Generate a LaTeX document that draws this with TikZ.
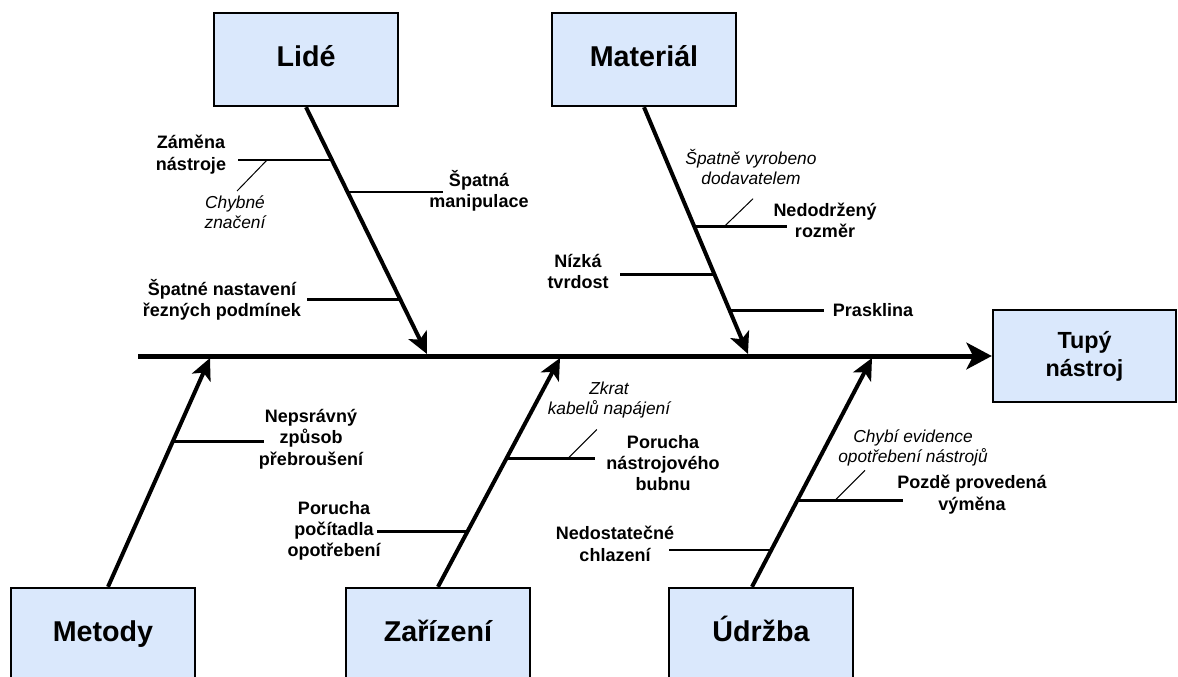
\documentclass[tikz,border=0pt]{standalone}
\usepackage{fontspec}
\setmainfont{Liberation Sans}
\usetikzlibrary{arrows.meta,calc}
\definecolor{fbfill}{HTML}{DAE8FC}
\tikzset{
  cat/.style={rectangle, draw=black, line width=1.8pt, fill=fbfill, align=center,
              minimum width=138pt, minimum height=69.75pt, inner sep=0pt,
              text height=15.5pt, text depth=4.5pt,
              font=\fontsize{21.5}{25}\selectfont\bfseries},
  effect/.style={cat, minimum width=137.25pt, minimum height=69pt,
                 text height=, text depth=,
                 font=\fontsize{17.5}{21}\selectfont\bfseries},
  lbl/.style={align=center, inner sep=1pt, font=\fontsize{13.5}{16}\selectfont\bfseries},
  note/.style={align=center, inner sep=1pt, font=\fontsize{13}{15}\selectfont\itshape},
  spine/.style={line width=3.75pt, -{Stealth[length=19pt,width=20pt,inset=5pt]}},
  rib/.style={line width=3pt, -{Stealth[length=16pt,width=15pt,inset=4pt]}},
  bone/.style={line width=2pt},
  lead/.style={line width=0.75pt},
}
\begin{document}
\begin{tikzpicture}[x=0.75pt,y=-0.75pt]
\useasboundingbox (0,0) rectangle (1178,677);
\clip (0,0) rectangle (1178,677);

% category boxes
\node[cat] (lide) at (306,59.5) {Lidé};
\node[cat] (material) at (644,59.5) {Materiál};
\node[cat] (metody) at (103,634.5) {Metody};
\node[cat] (zarizeni) at (438,634.5) {Zařízení};
\node[cat] (udrzba) at (761,634.5) {Údržba};
\node[effect] (tupy) at (1084.5,356) {Tupý\\nástroj};

% spine
\coordinate (head) at (138,356);
\draw[spine] (head) -- (tupy.west);

% ribs
\coordinate (tL) at (427,354);
\coordinate (tM) at (748,354);
\coordinate (tE) at (210,358);
\coordinate (tZ) at (560,358);
\coordinate (tU) at (872,358);
\draw[rib] (lide.south) -- (tL);
\draw[rib] (material.south) -- (tM);
\draw[rib] ([xshift=3.75pt]metody.north) -- (tE);
\draw[rib] (zarizeni.north) -- (tZ);
\draw[rib] ([xshift=-6.75pt]udrzba.north) -- (tU);

% Lide
\coordinate (jZam) at ($(lide.south)!0.214!(tL)$);
\coordinate (eZam) at ($(jZam)+(-94,0)$);
\coordinate (jSpm) at ($(lide.south)!0.343!(tL)$);
\coordinate (eSpm) at ($(jSpm)+(95,0)$);
\coordinate (jSpn) at ($(lide.south)!0.778!(tL)$);
\coordinate (eSpn) at ($(jSpn)+(-93,0)$);
\coordinate (kChz) at ($(jZam)!0.69!(eZam)$);
\coordinate (fChz) at ($(kChz)+(-30,31)$);
\draw[bone] (jZam) -- (eZam);
\draw[bone] (jSpm) -- (eSpm);
\draw[bone] (jSpn) -- (eSpn);
\draw[lead] (kChz) -- (fChz);
\node[lbl] (zam) at (191,154.5) {Záměna\\nástroje};
\node[note] (chz) at (235,212) {Chybné\\značení};
\node[lbl] (spm) at (479,191) {Špatná\\manipulace};
\node[lbl] (spn) at (222,300) {Špatné nastavení\\řezných podmínek};

% Material
\coordinate (jNdr) at ($(material.south)!0.484!(tM)$);
\coordinate (eNdr) at ($(jNdr)+(93,0)$);
\coordinate (jNzk) at ($(material.south)!0.677!(tM)$);
\coordinate (eNzk) at ($(jNzk)+(-94.5,0)$);
\coordinate (jPra) at ($(material.south)!0.823!(tM)$);
\coordinate (ePra) at ($(jPra)+(94,0)$);
\coordinate (kSvd) at ($(jNdr)!0.32!(eNdr)$);
\coordinate (fSvd) at ($(kSvd)+(29,-28)$);
\draw[bone] (jNdr) -- (eNdr);
\draw[bone] (jNzk) -- (eNzk);
\draw[bone] (jPra) -- (ePra);
\draw[lead] (kSvd) -- (fSvd);
\node[note] (svd) at (751,167) {Špatně vyrobeno\\dodavatelem};
\node[lbl] (ndr) at (825,220.5) {Nedodržený\\rozměr};
\node[lbl] (nzk) at (578,271.5) {Nízká\\tvrdost};
\node[lbl] (pra) at (873,310) {Prasklina};

% Metody
\coordinate (jNep) at ($([xshift=3.75pt]metody.north)!0.635!(tE)$);
\coordinate (eNep) at ($(jNep)+(91,0)$);
\draw[bone] (jNep) -- (eNep);
\node[lbl] (nep) at (311,439) {Nepsrávný\\způsob\\přebroušení};

% Zarizeni
\coordinate (jPpo) at ($(zarizeni.north)!0.243!(tZ)$);
\coordinate (ePpo) at ($(jPpo)+(-91,0)$);
\coordinate (jPnb) at ($(zarizeni.north)!0.561!(tZ)$);
\coordinate (ePnb) at ($(jPnb)+(89,0)$);
\coordinate (kZkr) at ($(jPnb)!0.69!(ePnb)$);
\coordinate (fZkr) at ($(kZkr)+(29,-29)$);
\draw[bone] (jPpo) -- (ePpo);
\draw[bone] (jPnb) -- (ePnb);
\draw[lead] (kZkr) -- (fZkr);
\node[lbl] (ppo) at (334,531) {Porucha\\počítadla\\opotřebení};
\node[note] (zkr) at (609,400) {Zkrat\\kabelů napájení};
\node[lbl] (pnb) at (663,463) {Porucha\\nástrojového\\bubnu};

% Udrzba
\coordinate (jNdc) at ($([xshift=-6.75pt]udrzba.north)!0.161!(tU)$);
\coordinate (eNdc) at ($(jNdc)+(-102,0)$);
\coordinate (jPzv) at ($([xshift=-6.75pt]udrzba.north)!0.378!(tU)$);
\coordinate (ePzv) at ($(jPzv)+(106,0)$);
\coordinate (kCeo) at ($(jPzv)!0.355!(ePzv)$);
\coordinate (fCeo) at ($(kCeo)+(30,-30)$);
\draw[bone] (jNdc) -- (eNdc);
\draw[bone] (jPzv) -- (ePzv);
\draw[lead] (kCeo) -- (fCeo);
\node[lbl] (ndc) at (615,544) {Nedostatečné\\chlazení};
\node[note] (ceo) at (913,447.5) {Chybí evidence\\opotřebení nástrojů};
\node[lbl] (pzv) at (972,494.5) {Pozdě provedená\\výměna};
\end{tikzpicture}
\end{document}
